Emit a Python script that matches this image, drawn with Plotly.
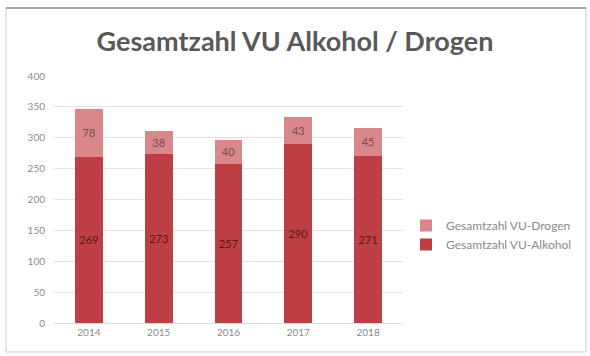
import plotly.graph_objects as go

years = ["2014", "2015", "2016", "2017", "2018"]
alkohol = [269, 273, 257, 290, 271]
drogen = [78, 38, 40, 43, 45]

W, H = 590, 356
L, R, T, B = 54, 187, 76, 33
pw = W - L - R
ph = H - T - B

def px_x(p):
    return (p - L) / pw

def px_y(p):
    return (H - B - p) / ph

fig = go.Figure()
fig.add_trace(go.Bar(
    x=years, y=alkohol, name="Gesamtzahl VU-Alkohol",
    marker=dict(color="#BE3F43", line=dict(width=0)),
    text=alkohol, textposition="inside", insidetextanchor="middle",
    textfont=dict(color="#5a1515", size=11, family="Lato"),
))
fig.add_trace(go.Bar(
    x=years, y=drogen, name="Gesamtzahl VU-Drogen",
    marker=dict(color="#D9878A", line=dict(width=0)),
    text=drogen, textposition="inside", insidetextanchor="middle",
    textfont=dict(color="#7a4a4a", size=11, family="Lato"),
))

fig.update_layout(
    width=W, height=H,
    barmode="stack", bargap=0.6,
    margin=dict(l=L, r=R, t=T, b=B),
    paper_bgcolor="white", plot_bgcolor="white",
    font=dict(family="Lato", color="#7f7f7f", size=10),
    title=dict(text="Gesamtzahl VU Alkohol / Drogen", x=0.5, xanchor="center",
               y=1 - 42 / H, yanchor="middle",
               font=dict(family="Lato", size=27, color="#595959", weight="bold")),
    showlegend=True,
    legend=dict(x=px_x(406), y=px_y(235), xanchor="left", yanchor="middle",
                traceorder="reversed", font=dict(size=12, color="#8a8a8a"),
                itemwidth=30, tracegroupgap=5),
    yaxis=dict(range=[0, 400], dtick=50, showgrid=True, gridcolor="#e3e3e3",
               zeroline=False, showline=False, ticks="", ticklabelstandoff=8,
               tickfont=dict(size=10, color="#8a8a8a")),
    xaxis=dict(showline=True, linecolor="#dcdcdc", ticks="",
               tickfont=dict(size=10, color="#8a8a8a")),
    uniformtext=dict(mode="show", minsize=8),
)

fig.add_shape(type="rect", xref="paper", yref="paper",
              x0=px_x(6), x1=px_x(586), y0=px_y(352), y1=px_y(8),
              line=dict(color="#cfcfcf", width=1), layer="below")
fig.add_shape(type="line", xref="paper", yref="paper",
              x0=px_x(6), x1=px_x(586), y0=px_y(8), y1=px_y(8),
              line=dict(color="#a8a8a8", width=2))

fig.write_html("out.html")
